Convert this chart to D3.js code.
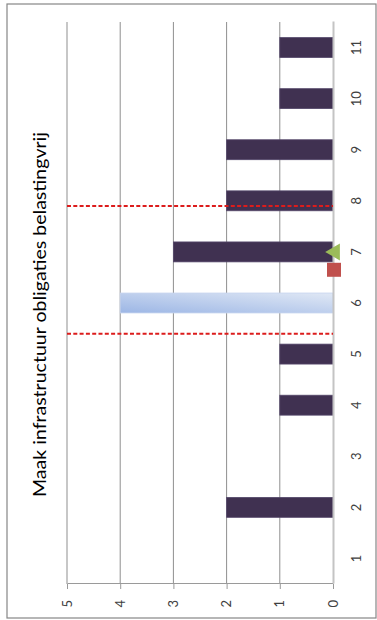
<!DOCTYPE html>
<html>
<head>
    <meta charset="utf-8">
    <script src="https://d3js.org/d3.v7.min.js"></script>
    <style>
        body { margin: 0; background: #fff; }
        text { font-family: Lato, "Liberation Sans", sans-serif; }
    </style>
</head>
<body>
<script>
    // chart data
    var categories = [1, 2, 3, 4, 5, 6, 7, 8, 9, 10, 11];
    var counts = [0, 2, 0, 1, 1, 4, 3, 2, 2, 1, 1];
    var highlighted = 6;          // the light blue column
    var valueTicks = [0, 1, 2, 3, 4, 5];
    var meanValue = 6.65;         // red square
    var medianValue = 7;          // green triangle
    var bandLines = [5.4, 7.9];   // red dashed lines
    var title = "Maak infrastructuur obligaties belastingvrij";

    // The chart is drawn as a normal column chart in a 620 x 377 frame,
    // then turned a quarter turn counter-clockwise to fill the page.
    var W = 620, H = 377;

    var svg = d3.select("body").append("svg")
        .attr("width", H)
        .attr("height", W);

    var defs = svg.append("defs");
    var grad = defs.append("linearGradient")
        .attr("id", "hiGrad")
        .attr("x1", 0).attr("y1", 0)
        .attr("x2", 1).attr("y2", 1);
    grad.append("stop").attr("offset", "0%").attr("stop-color", "#9cb6e5");
    grad.append("stop").attr("offset", "100%").attr("stop-color", "#e0e8f5");

    var g = svg.append("g")
        .attr("transform", "translate(0," + W + ") rotate(-90)");

    // outer frame
    g.append("rect")
        .attr("x", 2).attr("y", 7)
        .attr("width", 614).attr("height", 369)
        .attr("fill", "#fff")
        .attr("stroke", "#868686")
        .attr("stroke-width", 1.2);

    var plot = { left: 36, right: 598, top: 67, bottom: 333 };

    var x = d3.scaleBand()
        .domain(categories)
        .range([plot.left, plot.right])
        .paddingInner(0.61)
        .paddingOuter(0.305);

    // continuous version of the category axis for the mean / band markers
    var xLin = d3.scaleLinear()
        .domain([0.5, categories.length + 0.5])
        .range([plot.left, plot.right]);

    var y = d3.scaleLinear()
        .domain([0, 5])
        .range([plot.bottom, plot.top]);

    // gridlines
    g.append("g").selectAll("line")
        .data(valueTicks.filter(function (d) { return d > 0; }))
        .enter().append("line")
        .attr("x1", plot.left).attr("x2", plot.right)
        .attr("y1", function (d) { return y(d); })
        .attr("y2", function (d) { return y(d); })
        .attr("stroke", "#8f8f8f")
        .attr("stroke-width", 1);

    // value axis
    var yAxis = g.append("g")
        .attr("transform", "translate(" + plot.left + ",0)")
        .call(d3.axisLeft(y).tickValues(valueTicks).tickFormat(d3.format("d"))
            .tickSize(5).tickSizeOuter(0).tickPadding(11));
    yAxis.select(".domain").attr("stroke", "#9a9a9a");
    yAxis.selectAll(".tick line").attr("stroke", "#9a9a9a");
    yAxis.selectAll("text").attr("font-size", 13).attr("fill", "#404040");

    // bars
    g.append("g").selectAll("rect")
        .data(categories.map(function (c, i) { return { cat: c, value: counts[i] }; })
            .filter(function (d) { return d.value > 0; }))
        .enter().append("rect")
        .attr("x", function (d) { return x(d.cat); })
        .attr("width", x.bandwidth())
        .attr("y", function (d) { return y(d.value); })
        .attr("height", function (d) { return y(0) - y(d.value); })
        .attr("fill", function (d) { return d.cat === highlighted ? "url(#hiGrad)" : "#403151"; })
        .attr("stroke", function (d) { return d.cat === highlighted ? "#c6d4ee" : "#54476a"; })
        .attr("stroke-width", 0.8);

    // category axis
    var xAxis = g.append("g")
        .attr("transform", "translate(0," + plot.bottom + ")")
        .call(d3.axisBottom(x).tickSize(0).tickSizeOuter(0).tickPadding(19));
    xAxis.select(".domain").attr("stroke", "#c4c4c4").attr("stroke-width", 2);
    xAxis.selectAll("text").attr("font-size", 13).attr("fill", "#404040");

    // dashed band lines
    g.append("g").selectAll("line")
        .data(bandLines)
        .enter().append("line")
        .attr("x1", function (d) { return xLin(d); })
        .attr("x2", function (d) { return xLin(d); })
        .attr("y1", y(5)).attr("y2", y(0))
        .attr("stroke", "#dc1c1c")
        .attr("stroke-width", 2)
        .attr("stroke-dasharray", "4,2.3");

    // median triangle and mean square
    g.append("path")
        .attr("d", d3.symbol().type(d3.symbolTriangle).size(125)())
        .attr("transform", "translate(" + xLin(medianValue) + "," + (y(0) + 2) + ")")
        .attr("fill", "#9bbb59");

    g.append("path")
        .attr("d", d3.symbol().type(d3.symbolSquare).size(196)())
        .attr("transform", "translate(" + xLin(meanValue) + "," + (y(0) + 1) + ")")
        .attr("fill", "#c0504d");

    // title
    g.append("text")
        .attr("x", 305.5)
        .attr("y", 46)
        .attr("text-anchor", "middle")
        .attr("font-size", 18)
        .attr("fill", "#000")
        .attr("textLength", 365)
        .attr("lengthAdjust", "spacingAndGlyphs")
        .text(title);
</script>
</body>
</html>
